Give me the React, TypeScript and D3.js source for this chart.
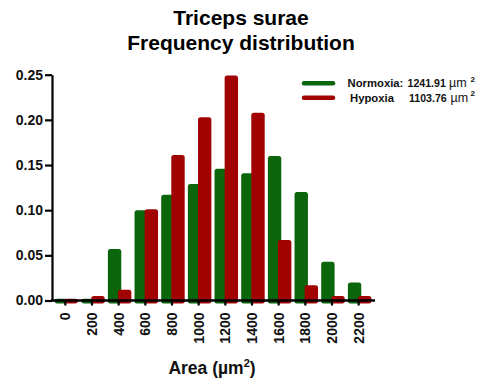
import React, { useEffect, useRef } from 'react';
import * as d3 from 'd3';

const areaBins = ['0', '200', '400', '600', '800', '1000', '1200', '1400', '1600', '1800', '2000', '2200'];
const normoxia = [0.002, 0.002, 0.057, 0.100, 0.117, 0.129, 0.146, 0.141, 0.160, 0.120, 0.043, 0.020];
const hypoxia = [0.002, 0.005, 0.012, 0.101, 0.161, 0.203, 0.249, 0.208, 0.067, 0.017, 0.005, 0.005];
const yTicks = [0, 0.05, 0.1, 0.15, 0.2, 0.25];
const legendItems = [
  { label: 'Normoxia:', mean: '1241.91', color: '#0b650b' },
  { label: 'Hypoxia', mean: '1103.76', color: '#a10303' },
];

const FONT = 'Arial, "Liberation Sans", Helvetica, sans-serif';

const App = () => {
  const svgRef = useRef<SVGSVGElement | null>(null);

  useEffect(() => {
    document.body.style.margin = '0';

    const width = 483;
    const height = 385;
    const marginLeft = 52;
    const plotRight = 372;
    const axisRight = 375;
    const yTop = 74.7;
    const yBottom = 300.5;

    const svg = d3.select(svgRef.current)
      .attr('width', width)
      .attr('height', height)
      .attr('viewBox', [0, 0, width, height])
      .style('font-family', FONT);

    svg.selectAll('*').remove();

    const x = d3.scaleBand()
      .domain(areaBins)
      .range([marginLeft, plotRight])
      .padding(0);

    const y = d3.scaleLinear()
      .domain([0, 0.25])
      .range([yBottom, yTop]);

    const barW = 13.4;

    // title
    svg.append('text')
      .attr('x', 241)
      .attr('y', 25)
      .attr('text-anchor', 'middle')
      .attr('font-size', 21)
      .attr('font-weight', 'bold')
      .text('Triceps surae');
    svg.append('text')
      .attr('x', 241)
      .attr('y', 50)
      .attr('text-anchor', 'middle')
      .attr('font-size', 21)
      .attr('font-weight', 'bold')
      .text('Frequency distribution');

    // bars (green first, red on top)
    const center = (d: string) => (x(d) as number) + x.bandwidth() / 2;

    svg.append('g')
      .selectAll('rect')
      .data(areaBins)
      .join('rect')
      .attr('x', (d) => center(d) - 10.8)
      .attr('y', (d, i) => y(normoxia[i]))
      .attr('width', barW)
      .attr('height', (d, i) => y(0) - y(normoxia[i]) + 3)
      .attr('rx', 2.5)
      .attr('fill', legendItems[0].color);

    svg.append('g')
      .selectAll('rect')
      .data(areaBins)
      .join('rect')
      .attr('x', (d) => center(d) - 0.7)
      .attr('y', (d, i) => y(hypoxia[i]))
      .attr('width', barW)
      .attr('height', (d, i) => y(0) - y(hypoxia[i]) + 3)
      .attr('rx', 2.5)
      .attr('fill', legendItems[1].color);

    // y axis
    svg.append('g')
      .attr('transform', `translate(${marginLeft},0)`)
      .call(d3.axisLeft(y).tickValues(yTicks).tickFormat(d3.format('.2f')).tickSize(7).tickPadding(2).tickSizeOuter(0))
      .call((g) => g.select('.domain').attr('stroke-width', 2.2).attr('stroke', '#000'))
      .call((g) => g.selectAll('.tick line').attr('stroke-width', 2.2).attr('stroke', '#000'))
      .call((g) => g.selectAll('.tick text')
        .attr('font-size', 14)
        .attr('font-weight', 'bold')
        .attr('font-family', FONT)
        .attr('fill', '#111'));

    // x axis
    svg.append('g')
      .attr('transform', `translate(0,${yBottom})`)
      .call(d3.axisBottom(x).tickSize(5).tickSizeOuter(0).tickPadding(0))
      .call((g) => g.select('.domain').remove())
      .call((g) => g.append('line')
        .attr('x1', marginLeft - 1)
        .attr('x2', axisRight)
        .attr('stroke', '#000')
        .attr('stroke-width', 2.4))
      .call((g) => g.selectAll('.tick line').attr('stroke-width', 2.2).attr('stroke', '#000'))
      .call((g) => g.selectAll('.tick text')
        .attr('font-size', 14)
        .attr('font-weight', 'bold')
        .attr('font-family', FONT)
        .attr('fill', '#111')
        .attr('text-anchor', 'end')
        .attr('transform', 'rotate(-90)')
        .attr('x', -12)
        .attr('y', 0)
        .attr('dy', '0.36em'));

    // x axis title
    const xt = svg.append('text')
      .attr('x', 212)
      .attr('y', 374)
      .attr('text-anchor', 'middle')
      .attr('font-size', 17.5)
      .attr('font-weight', 'bold')
      .attr('fill', '#111');
    xt.append('tspan').text('Area (\u00b5m');
    xt.append('tspan').attr('font-size', 11).attr('dy', -7).text('2');
    xt.append('tspan').attr('dy', 7).text(')');

    // legend
    const legend = svg.append('g')
      .attr('font-size', 11)
      .attr('fill', '#111');
    legendItems.forEach((item, i) => {
      const ly = 83.3 + i * 14.4;
      const by = ly + 3.8;
      legend.append('line')
        .attr('x1', 304)
        .attr('x2', 333)
        .attr('y1', ly)
        .attr('y2', ly)
        .attr('stroke', item.color)
        .attr('stroke-width', 4.5)
        .attr('stroke-linecap', 'round');
      legend.append('text')
        .attr('x', i === 0 ? 347.5 : 350)
        .attr('y', by)
        .attr('font-size', 11.3)
        .attr('font-weight', 'bold')
        .text(item.label);
      const t = legend.append('text')
        .attr('x', i === 0 ? 407.5 : 409)
        .attr('y', by);
      t.append('tspan')
        .attr('font-weight', 'bold')
        .attr('font-size', 10.6)
        .text(item.mean);
      t.append('tspan')
        .attr('x', i === 0 ? 449 : 450.5)
        .attr('font-size', 12.5)
        .text('\u00b5m');
      t.append('tspan')
        .attr('x', 470.5)
        .attr('dy', -5.5)
        .attr('font-size', 8)
        .attr('font-weight', 'bold')
        .text('2');
    });
  }, []);

  return (
    <div>
      <svg ref={svgRef}></svg>
    </div>
  );
};

export default App;
